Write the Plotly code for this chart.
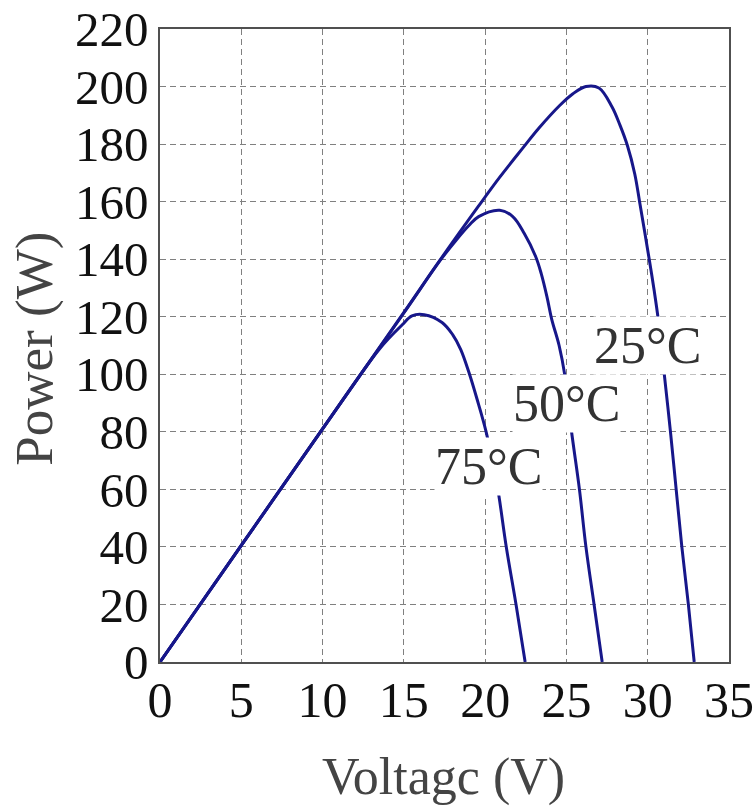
import plotly.graph_objects as go

# Output power of a PV module versus terminal voltage at three cell temperatures
v_25 = [0, 5, 10, 15, 17.2, 19.6, 20.9, 22.3, 23.3, 24.6, 25.4, 26.2, 27.0, 27.8, 28.3, 28.75, 29.2, 29.5, 29.8, 30.1, 30.4, 30.65, 31.0, 31.4, 31.75, 32.1, 32.5, 32.86]
p_25 = [0, 40.5, 81, 121.5, 139.5, 158.5, 168.5, 178.5, 185.5, 193.5, 197.5, 200, 199.5, 193, 186.5, 179.5, 169.7, 160, 150, 139.7, 129, 119, 101, 80, 60, 40, 20, 0]

v_50 = [0, 5, 10, 15, 17.2, 18.2, 19.0, 19.6, 20.9, 21.7, 22.4, 23.1, 23.45, 23.8, 24.1, 24.55, 24.9, 25.3, 25.8, 26.2, 26.7, 27.2]
p_50 = [0, 40.5, 81, 121.3, 139.3, 146.5, 151.7, 154.8, 157, 154.8, 149, 141, 135, 127, 119, 110, 99.7, 80.7, 60, 40, 20, 0]

v_75 = [0, 5, 10, 13.5, 14.9, 15.5, 16.25, 17.35, 18.0, 18.5, 19.0, 19.5, 20.06, 20.74, 21.3, 21.9, 22.46]
p_75 = [0, 40.5, 81, 108.8, 117.2, 120.3, 120.7, 118, 113.8, 108.6, 100.7, 91.4, 80, 61.4, 40, 20, 0]

series = [("25°C", v_25, p_25), ("50°C", v_50, p_50), ("75°C", v_75, p_75)]

# Curve labels: text, voltage, power
label_text = ["25°C", "50°C", "75°C"]
label_v = [30.0, 25.0, 20.2]
label_p = [110, 89.7, 68]

x_ticks = [0, 5, 10, 15, 20, 25, 30, 35]
y_ticks = [0, 20, 40, 60, 80, 100, 120, 140, 160, 180, 200, 220]

LINE = "#17178a"
SERIF = "Liberation Serif"

fig = go.Figure()
for name, v, p in series:
    fig.add_trace(go.Scatter(
        x=v, y=p, mode="lines", name=name,
        line=dict(color=LINE, width=3, shape="spline", smoothing=1.0),
        showlegend=False,
    ))

for t, xv, yv in zip(label_text, label_v, label_p):
    fig.add_annotation(
        x=xv, y=yv, xref="x", yref="y", text=t, showarrow=False,
        font=dict(family=SERIF, size=52, color="#333333"),
        bgcolor="white", borderpad=0,
    )

fig.add_annotation(
    x=0.499, y=0, xref="paper", yref="paper", text="Voltagc (V)",
    showarrow=False, yanchor="middle", yshift=-115,
    font=dict(family=SERIF, size=52, color="#444444"),
)
fig.add_annotation(
    x=0, y=0.495, xref="paper", yref="paper", text="Power (W)",
    showarrow=False, xanchor="center", xshift=-125, textangle=-90,
    font=dict(family=SERIF, size=53, color="#444444"),
)

axis_common = dict(
    showline=True, mirror=True, linecolor="#505050", linewidth=1.5,
    showgrid=True, gridcolor="#808080", gridwidth=1, griddash="6px,4px",
    zeroline=False, ticks="", automargin=False, ticklabeloverflow="allow",
)

fig.update_xaxes(range=[0, 35], tickvals=x_ticks, ticktext=[str(t) for t in x_ticks],
                 ticklabelstandoff=-7,
                 tickfont=dict(family=SERIF, size=50, color="#111111"), **axis_common)
fig.update_yaxes(range=[0, 220], tickvals=y_ticks, ticktext=[str(t) for t in y_ticks],
                 ticklabelstandoff=0,
                 tickfont=dict(family=SERIF, size=49, color="#111111"), **axis_common)

fig.update_layout(
    width=755, height=807,
    margin=dict(l=160, r=26, t=29, b=145),
    paper_bgcolor="white", plot_bgcolor="white",
)

fig.write_html("out.html")
